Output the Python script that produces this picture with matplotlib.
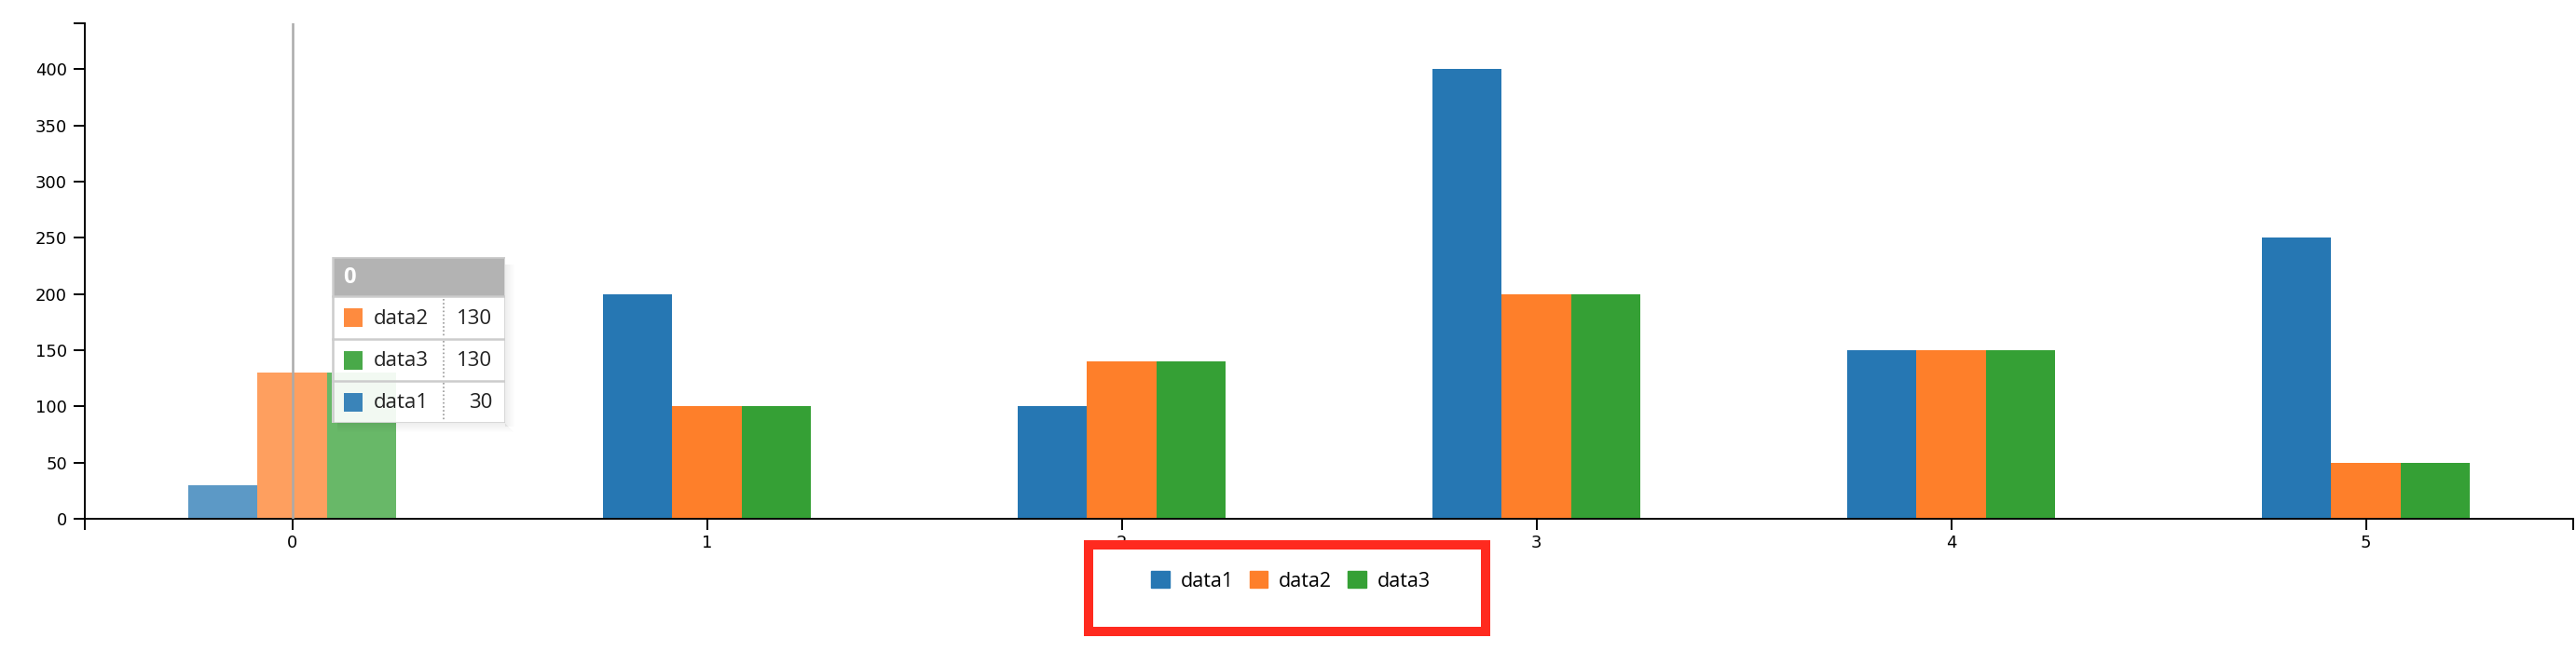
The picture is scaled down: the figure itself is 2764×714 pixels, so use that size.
import numpy as np
import matplotlib.pyplot as plt
from matplotlib.patches import Rectangle

categories = [0, 1, 2, 3, 4, 5]
data1 = [30, 200, 100, 400, 150, 250]
data2 = [130, 100, 140, 200, 150, 50]
data3 = [130, 100, 140, 200, 150, 50]
series_names = ["data1", "data2", "data3"]
colors = ["#2677b3", "#fe7f2a", "#35a035"]
focus_idx = 0
yticks = [0, 50, 100, 150, 200, 250, 300, 350, 400]

W, H = 2764, 714
fig = plt.figure(figsize=(W / 100, H / 100), dpi=100)
ax = fig.add_axes([91 / W, 1 - 557 / H, 2670 / W, 532 / H])

bw = 1 / 6
x = np.arange(len(categories))
for j, vals in enumerate([data1, data2, data3]):
    bars = ax.bar(x + (j - 1) * bw, vals, width=bw, color=colors[j], linewidth=0, zorder=2)
    # hovered category is drawn lighter
    bars[focus_idx].set_alpha(0.75)

# focus grid line
ax.axvline(focus_idx, color="#aaaaaa", lw=1.8, zorder=3)

ax.set_xlim(-0.5, 5.5)
ax.set_ylim(0, 441)
ax.set_xticks(x)
ax.set_xticklabels([str(c) for c in categories])
ax.set_yticks(yticks)
ax.set_xticks([-0.5, 5.5], minor=True)
ax.set_yticks([441], minor=True)
ax.tick_params(which="both", length=8.6, width=1.4, colors="black", labelsize=13, pad=4)
ax.tick_params(axis="y", which="both", pad=5)
for s in ["top", "right"]:
    ax.spines[s].set_visible(False)
for s in ["left", "bottom"]:
    ax.spines[s].set_linewidth(1.4)

# legend
handles = [Rectangle((0, 0), 1, 1, color=c) for c in colors]
fig.legend(handles, series_names, loc="center", bbox_to_anchor=(1385 / W, 1 - 624 / H),
           ncol=3, frameon=False, prop={"family": "Open Sans", "size": 15.5},
           handlelength=0.9, handleheight=0.9, handletextpad=0.55, columnspacing=0.8,
           borderpad=0)

# red annotation box
fig.patches.append(Rectangle((1168 / W, 1 - 678 / H), 426 / W, 93 / H, transform=fig.transFigure,
                             fill=False, edgecolor="#ff2a1f", linewidth=7.2))

# tooltip
tx, ty, tw, th = 356, 276, 186, 178
tt = fig.add_axes([tx / W, 1 - (ty + th) / H, tw / W, th / H])
tt.set_xlim(0, tw)
tt.set_ylim(th, 0)
tt.axis("off")
tt.patch.set_visible(False)

# soft shadow, right and bottom strips only
for k in range(10):
    a = 0.07 * (1 - k / 10)
    fig.patches.append(Rectangle(((tx + tw + k) / W, 1 - (ty + th + 4) / H), 1 / W, (th - 4) / H,
                                 transform=fig.transFigure, facecolor="black", alpha=a,
                                 linewidth=0, zorder=4))
    fig.patches.append(Rectangle(((tx + 6) / W, 1 - (ty + th + k + 1) / H), (tw - 6 + k) / W, 1 / H,
                                 transform=fig.transFigure, facecolor="black", alpha=a,
                                 linewidth=0, zorder=4))

tt.add_patch(Rectangle((0, 0), tw, th, facecolor="white", alpha=0.92, edgecolor="none"))
tt.add_patch(Rectangle((1, 1), tw - 2, 41, facecolor="#b3b3b3", edgecolor="none"))
tt.text(12, 22, str(categories[focus_idx]), color="white", fontsize=17, fontweight="bold",
        family="Open Sans", va="center", ha="left")
rows = sorted(zip(series_names, [data1[focus_idx], data2[focus_idx], data3[focus_idx]], colors),
              key=lambda r: -r[1])
rh = 45
for r, (name, val, col) in enumerate(rows):
    y0 = 43 + r * rh
    yc = y0 + rh / 2
    tt.add_patch(Rectangle((13, yc - 10), 20, 20, facecolor=col, alpha=0.9, edgecolor="none"))
    tt.text(45, yc + 1, name, fontsize=16, family="Open Sans", va="center", ha="left", color="#222222")
    tt.text(172, yc + 1, str(val), fontsize=16, family="Open Sans", va="center", ha="right", color="#222222")
    tt.plot([120, 120], [y0 + 2, y0 + rh - 2], color="#999999", lw=1.2, ls=(0, (1, 1.5)))
    if r > 0:
        tt.plot([1, tw - 1], [y0, y0], color="#cccccc", lw=1.8)
tt.plot([1, tw - 1], [42, 42], color="#cccccc", lw=1.8)
tt.add_patch(Rectangle((0.5, 0.5), tw - 1, th - 1, fill=False, edgecolor="#cccccc", linewidth=1.8))

fig.savefig("out.png", dpi=100)
